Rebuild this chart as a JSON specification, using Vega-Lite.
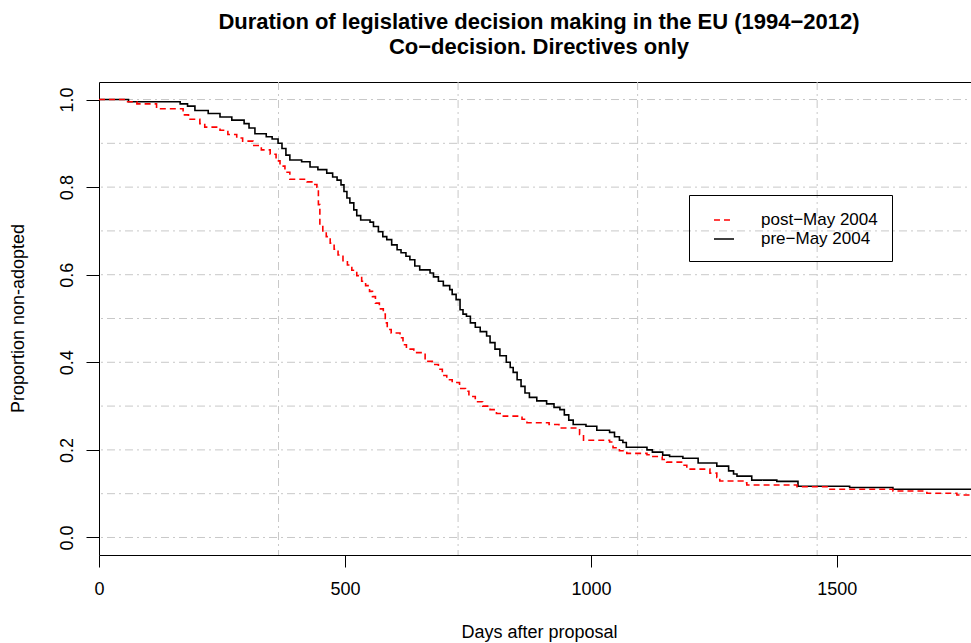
{
  "$schema": "https://vega.github.io/schema/vega-lite/v6.json",
  "width": 880,
  "height": 473,
  "autosize": {"type": "none"},
  "padding": {"left": 99, "top": 82, "right": 0, "bottom": 88},
  "background": "white",
  "config": {
    "font": "Liberation Sans",
    "view": {"stroke": "black", "strokeWidth": 1},
    "axisX": {
      "grid": false, "domain": false, "labelFlush": false, "labelOverlap": false,
      "tickSize": 12, "tickColor": "black", "tickWidth": 1,
      "labelFontSize": 18, "labelColor": "black", "labelPadding": 13, "labelFont": "Liberation Sans",
      "titleFontSize": 18, "titleFontWeight": "normal", "titleColor": "black",
      "titleFont": "Liberation Sans", "titleY": 77, "titleBaseline": "middle"
    },
    "axisY": {
      "grid": false, "domain": false, "labelFlush": false, "labelOverlap": false,
      "tickSize": 13, "tickColor": "black", "tickWidth": 1,
      "labelFontSize": 18, "labelColor": "black", "labelAngle": 270, "labelAlign": "center", "labelBaseline": "bottom",
      "labelPadding": 10, "labelFont": "Liberation Sans",
      "titleFontSize": 18, "titleFontWeight": "normal", "titleColor": "black",
      "titleFont": "Liberation Sans", "titleAngle": 270, "titleX": -81, "titleY": 236, "titleAlign": "center", "titleBaseline": "middle"
    }
  },
  "title": {
    "text": ["Duration of legislative decision making in the EU (1994−2012)", "Co−decision. Directives only"],
    "font": "Liberation Sans",
    "fontSize": 22,
    "fontWeight": "bold",
    "color": "black",
    "anchor": "middle",
    "lineHeight": 25,
    "offset": 23
  },
  "datasets": {
    "vgrid": [{"day": 365}, {"day": 730}, {"day": 1095}, {"day": 1460}],
    "hgrid": [{"S": 0.0}, {"S": 0.1}, {"S": 0.2}, {"S": 0.3}, {"S": 0.4}, {"S": 0.5}, {"S": 0.6}, {"S": 0.7}, {"S": 0.8}, {"S": 0.9}, {"S": 1.0}],
    "curves": [
      {"group": "pre−May 2004", "day": 0, "S": 1.0},
      {"group": "pre−May 2004", "day": 60, "S": 0.995},
      {"group": "pre−May 2004", "day": 165, "S": 0.99},
      {"group": "pre−May 2004", "day": 180, "S": 0.985},
      {"group": "pre−May 2004", "day": 195, "S": 0.975},
      {"group": "pre−May 2004", "day": 222, "S": 0.968},
      {"group": "pre−May 2004", "day": 246, "S": 0.96},
      {"group": "pre−May 2004", "day": 270, "S": 0.953},
      {"group": "pre−May 2004", "day": 295, "S": 0.945},
      {"group": "pre−May 2004", "day": 305, "S": 0.935},
      {"group": "pre−May 2004", "day": 317, "S": 0.922},
      {"group": "pre−May 2004", "day": 340, "S": 0.915},
      {"group": "pre−May 2004", "day": 352, "S": 0.91},
      {"group": "pre−May 2004", "day": 364, "S": 0.9},
      {"group": "pre−May 2004", "day": 372, "S": 0.888},
      {"group": "pre−May 2004", "day": 380, "S": 0.873},
      {"group": "pre−May 2004", "day": 388, "S": 0.862},
      {"group": "pre−May 2004", "day": 412, "S": 0.858},
      {"group": "pre−May 2004", "day": 429, "S": 0.846},
      {"group": "pre−May 2004", "day": 445, "S": 0.84},
      {"group": "pre−May 2004", "day": 463, "S": 0.832},
      {"group": "pre−May 2004", "day": 475, "S": 0.823},
      {"group": "pre−May 2004", "day": 484, "S": 0.816},
      {"group": "pre−May 2004", "day": 492, "S": 0.805},
      {"group": "pre−May 2004", "day": 498, "S": 0.79},
      {"group": "pre−May 2004", "day": 504, "S": 0.775},
      {"group": "pre−May 2004", "day": 510, "S": 0.764},
      {"group": "pre−May 2004", "day": 518, "S": 0.748},
      {"group": "pre−May 2004", "day": 524, "S": 0.735},
      {"group": "pre−May 2004", "day": 532, "S": 0.725},
      {"group": "pre−May 2004", "day": 551, "S": 0.72},
      {"group": "pre−May 2004", "day": 558, "S": 0.71},
      {"group": "pre−May 2004", "day": 568, "S": 0.698},
      {"group": "pre−May 2004", "day": 577, "S": 0.687},
      {"group": "pre−May 2004", "day": 585, "S": 0.68},
      {"group": "pre−May 2004", "day": 595, "S": 0.668},
      {"group": "pre−May 2004", "day": 606, "S": 0.657},
      {"group": "pre−May 2004", "day": 614, "S": 0.65},
      {"group": "pre−May 2004", "day": 624, "S": 0.642},
      {"group": "pre−May 2004", "day": 632, "S": 0.634},
      {"group": "pre−May 2004", "day": 642, "S": 0.62},
      {"group": "pre−May 2004", "day": 652, "S": 0.611},
      {"group": "pre−May 2004", "day": 673, "S": 0.604},
      {"group": "pre−May 2004", "day": 680, "S": 0.595},
      {"group": "pre−May 2004", "day": 690, "S": 0.585},
      {"group": "pre−May 2004", "day": 700, "S": 0.575},
      {"group": "pre−May 2004", "day": 713, "S": 0.566},
      {"group": "pre−May 2004", "day": 718, "S": 0.555},
      {"group": "pre−May 2004", "day": 726, "S": 0.543},
      {"group": "pre−May 2004", "day": 734, "S": 0.52},
      {"group": "pre−May 2004", "day": 740, "S": 0.51},
      {"group": "pre−May 2004", "day": 747, "S": 0.505},
      {"group": "pre−May 2004", "day": 755, "S": 0.49},
      {"group": "pre−May 2004", "day": 765, "S": 0.48},
      {"group": "pre−May 2004", "day": 775, "S": 0.47},
      {"group": "pre−May 2004", "day": 788, "S": 0.46},
      {"group": "pre−May 2004", "day": 795, "S": 0.445},
      {"group": "pre−May 2004", "day": 805, "S": 0.43},
      {"group": "pre−May 2004", "day": 815, "S": 0.415},
      {"group": "pre−May 2004", "day": 828, "S": 0.4},
      {"group": "pre−May 2004", "day": 836, "S": 0.388},
      {"group": "pre−May 2004", "day": 842, "S": 0.377},
      {"group": "pre−May 2004", "day": 850, "S": 0.36},
      {"group": "pre−May 2004", "day": 858, "S": 0.345},
      {"group": "pre−May 2004", "day": 866, "S": 0.33},
      {"group": "pre−May 2004", "day": 875, "S": 0.32},
      {"group": "pre−May 2004", "day": 890, "S": 0.312},
      {"group": "pre−May 2004", "day": 910, "S": 0.305},
      {"group": "pre−May 2004", "day": 925, "S": 0.297},
      {"group": "pre−May 2004", "day": 937, "S": 0.292},
      {"group": "pre−May 2004", "day": 946, "S": 0.28},
      {"group": "pre−May 2004", "day": 955, "S": 0.268},
      {"group": "pre−May 2004", "day": 964, "S": 0.258},
      {"group": "pre−May 2004", "day": 990, "S": 0.254},
      {"group": "pre−May 2004", "day": 1012, "S": 0.245},
      {"group": "pre−May 2004", "day": 1038, "S": 0.24},
      {"group": "pre−May 2004", "day": 1048, "S": 0.23},
      {"group": "pre−May 2004", "day": 1058, "S": 0.222},
      {"group": "pre−May 2004", "day": 1065, "S": 0.217},
      {"group": "pre−May 2004", "day": 1072, "S": 0.206},
      {"group": "pre−May 2004", "day": 1114, "S": 0.2},
      {"group": "pre−May 2004", "day": 1125, "S": 0.195},
      {"group": "pre−May 2004", "day": 1146, "S": 0.188},
      {"group": "pre−May 2004", "day": 1160, "S": 0.185},
      {"group": "pre−May 2004", "day": 1187, "S": 0.181},
      {"group": "pre−May 2004", "day": 1218, "S": 0.17},
      {"group": "pre−May 2004", "day": 1256, "S": 0.163},
      {"group": "pre−May 2004", "day": 1280, "S": 0.152},
      {"group": "pre−May 2004", "day": 1290, "S": 0.145},
      {"group": "pre−May 2004", "day": 1297, "S": 0.14},
      {"group": "pre−May 2004", "day": 1327, "S": 0.131},
      {"group": "pre−May 2004", "day": 1378, "S": 0.128},
      {"group": "pre−May 2004", "day": 1421, "S": 0.117},
      {"group": "pre−May 2004", "day": 1526, "S": 0.114},
      {"group": "pre−May 2004", "day": 1614, "S": 0.11},
      {"group": "pre−May 2004", "day": 1789, "S": 0.11},
      {"group": "post−May 2004", "day": 0, "S": 1.0},
      {"group": "post−May 2004", "day": 53, "S": 0.995},
      {"group": "post−May 2004", "day": 77, "S": 0.99},
      {"group": "post−May 2004", "day": 117, "S": 0.979},
      {"group": "post−May 2004", "day": 171, "S": 0.965},
      {"group": "post−May 2004", "day": 182, "S": 0.955},
      {"group": "post−May 2004", "day": 205, "S": 0.945},
      {"group": "post−May 2004", "day": 215, "S": 0.937},
      {"group": "post−May 2004", "day": 246, "S": 0.93},
      {"group": "post−May 2004", "day": 262, "S": 0.92},
      {"group": "post−May 2004", "day": 280, "S": 0.912},
      {"group": "post−May 2004", "day": 292, "S": 0.905},
      {"group": "post−May 2004", "day": 313, "S": 0.895},
      {"group": "post−May 2004", "day": 330, "S": 0.885},
      {"group": "post−May 2004", "day": 348, "S": 0.875},
      {"group": "post−May 2004", "day": 360, "S": 0.86},
      {"group": "post−May 2004", "day": 368, "S": 0.848},
      {"group": "post−May 2004", "day": 378, "S": 0.834},
      {"group": "post−May 2004", "day": 388, "S": 0.818},
      {"group": "post−May 2004", "day": 423, "S": 0.812},
      {"group": "post−May 2004", "day": 436, "S": 0.806},
      {"group": "post−May 2004", "day": 443, "S": 0.8},
      {"group": "post−May 2004", "day": 446, "S": 0.76},
      {"group": "post−May 2004", "day": 449, "S": 0.71},
      {"group": "post−May 2004", "day": 455, "S": 0.7},
      {"group": "post−May 2004", "day": 462, "S": 0.687},
      {"group": "post−May 2004", "day": 470, "S": 0.672},
      {"group": "post−May 2004", "day": 478, "S": 0.658},
      {"group": "post−May 2004", "day": 486, "S": 0.645},
      {"group": "post−May 2004", "day": 496, "S": 0.632},
      {"group": "post−May 2004", "day": 505, "S": 0.622},
      {"group": "post−May 2004", "day": 514, "S": 0.61},
      {"group": "post−May 2004", "day": 524, "S": 0.598},
      {"group": "post−May 2004", "day": 534, "S": 0.585},
      {"group": "post−May 2004", "day": 542, "S": 0.575},
      {"group": "post−May 2004", "day": 550, "S": 0.562},
      {"group": "post−May 2004", "day": 556, "S": 0.55},
      {"group": "post−May 2004", "day": 562, "S": 0.535},
      {"group": "post−May 2004", "day": 570, "S": 0.522},
      {"group": "post−May 2004", "day": 578, "S": 0.51},
      {"group": "post−May 2004", "day": 582, "S": 0.49},
      {"group": "post−May 2004", "day": 586, "S": 0.475},
      {"group": "post−May 2004", "day": 594, "S": 0.467},
      {"group": "post−May 2004", "day": 612, "S": 0.456},
      {"group": "post−May 2004", "day": 618, "S": 0.44},
      {"group": "post−May 2004", "day": 625, "S": 0.43},
      {"group": "post−May 2004", "day": 640, "S": 0.422},
      {"group": "post−May 2004", "day": 663, "S": 0.402},
      {"group": "post−May 2004", "day": 680, "S": 0.395},
      {"group": "post−May 2004", "day": 690, "S": 0.384},
      {"group": "post−May 2004", "day": 698, "S": 0.37},
      {"group": "post−May 2004", "day": 707, "S": 0.36},
      {"group": "post−May 2004", "day": 718, "S": 0.354},
      {"group": "post−May 2004", "day": 733, "S": 0.34},
      {"group": "post−May 2004", "day": 745, "S": 0.334},
      {"group": "post−May 2004", "day": 752, "S": 0.322},
      {"group": "post−May 2004", "day": 765, "S": 0.31},
      {"group": "post−May 2004", "day": 780, "S": 0.3},
      {"group": "post−May 2004", "day": 795, "S": 0.292},
      {"group": "post−May 2004", "day": 808, "S": 0.283},
      {"group": "post−May 2004", "day": 822, "S": 0.277},
      {"group": "post−May 2004", "day": 860, "S": 0.27},
      {"group": "post−May 2004", "day": 870, "S": 0.262},
      {"group": "post−May 2004", "day": 915, "S": 0.258},
      {"group": "post−May 2004", "day": 935, "S": 0.25},
      {"group": "post−May 2004", "day": 973, "S": 0.249},
      {"group": "post−May 2004", "day": 977, "S": 0.235},
      {"group": "post−May 2004", "day": 985, "S": 0.222},
      {"group": "post−May 2004", "day": 1038, "S": 0.218},
      {"group": "post−May 2004", "day": 1045, "S": 0.205},
      {"group": "post−May 2004", "day": 1058, "S": 0.198},
      {"group": "post−May 2004", "day": 1073, "S": 0.192},
      {"group": "post−May 2004", "day": 1114, "S": 0.189},
      {"group": "post−May 2004", "day": 1120, "S": 0.185},
      {"group": "post−May 2004", "day": 1145, "S": 0.178},
      {"group": "post−May 2004", "day": 1154, "S": 0.172},
      {"group": "post−May 2004", "day": 1187, "S": 0.165},
      {"group": "post−May 2004", "day": 1195, "S": 0.156},
      {"group": "post−May 2004", "day": 1242, "S": 0.147},
      {"group": "post−May 2004", "day": 1256, "S": 0.137},
      {"group": "post−May 2004", "day": 1262, "S": 0.129},
      {"group": "post−May 2004", "day": 1309, "S": 0.125},
      {"group": "post−May 2004", "day": 1317, "S": 0.12},
      {"group": "post−May 2004", "day": 1419, "S": 0.116},
      {"group": "post−May 2004", "day": 1486, "S": 0.11},
      {"group": "post−May 2004", "day": 1614, "S": 0.106},
      {"group": "post−May 2004", "day": 1683, "S": 0.101},
      {"group": "post−May 2004", "day": 1744, "S": 0.097},
      {"group": "post−May 2004", "day": 1789, "S": 0.097}
    ]
  },
  "layer": [
    {
      "data": {"name": "vgrid"},
      "mark": {"type": "rule", "color": "#c8c8c8", "strokeWidth": 1, "strokeDash": [8, 4, 2, 4]},
      "encoding": {
        "x": {"field": "day", "type": "quantitative", "scale": {"domain": [0, 1789], "nice": false, "zero": false},
              "axis": {"title": "Days after proposal", "values": [0, 500, 1000, 1500], "format": "d"}}
      }
    },
    {
      "data": {"name": "hgrid"},
      "mark": {"type": "rule", "color": "#c8c8c8", "strokeWidth": 1, "strokeDash": [8, 4, 2, 4]},
      "encoding": {
        "y": {"field": "S", "type": "quantitative", "scale": {"domain": [-0.04, 1.04], "nice": false, "zero": false},
              "axis": {"title": "Proportion non-adopted", "values": [0, 0.2, 0.4, 0.6, 0.8, 1.0], "format": ".1f"}}
      }
    },
    {
      "data": {"name": "curves"},
      "mark": {"type": "line", "interpolate": "step-after", "strokeWidth": 1.6, "clip": true},
      "encoding": {
        "x": {"field": "day", "type": "quantitative", "scale": {"domain": [0, 1789], "nice": false, "zero": false},
              "axis": {"title": "Days after proposal", "values": [0, 500, 1000, 1500], "format": "d"}},
        "y": {"field": "S", "type": "quantitative", "scale": {"domain": [-0.04, 1.04], "nice": false, "zero": false},
              "axis": {"title": "Proportion non-adopted", "values": [0, 0.2, 0.4, 0.6, 0.8, 1.0], "format": ".1f"}},
        "color": {
          "field": "group", "type": "nominal",
          "scale": {"domain": ["post−May 2004", "pre−May 2004"], "range": ["#ff0000", "#000000"]},
          "legend": {
            "title": null, "orient": "none", "legendX": 590, "legendY": 113,
            "strokeColor": "black", "padding": 14, "symbolType": "stroke", "symbolSize": 400,
            "symbolStrokeWidth": 1.6, "symbolOffset": 10, "labelOffset": 26,
            "labelFontSize": 17, "labelColor": "black", "labelFont": "Liberation Sans", "rowPadding": 0
          }
        },
        "strokeDash": {
          "field": "group", "type": "nominal",
          "scale": {"domain": ["post−May 2004", "pre−May 2004"], "range": [[6, 4], [1, 0]]},
          "legend": {
            "title": null, "orient": "none", "legendX": 590, "legendY": 113,
            "strokeColor": "black", "padding": 14, "symbolType": "stroke", "symbolSize": 400,
            "symbolStrokeWidth": 1.6, "symbolOffset": 10, "labelOffset": 26,
            "labelFontSize": 17, "labelColor": "black", "labelFont": "Liberation Sans", "rowPadding": 0
          }
        }
      }
    }
  ]
}
